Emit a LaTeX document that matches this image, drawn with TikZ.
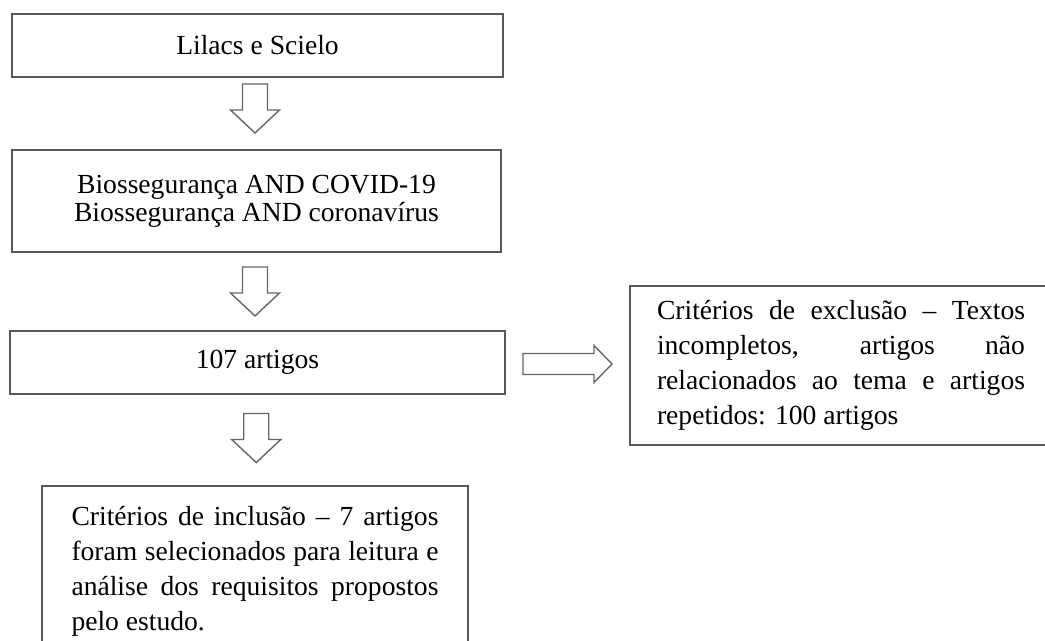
\documentclass[tikz,border=0pt]{standalone}
\usepackage{fontspec}
\setmainfont{Liberation Serif}
\usepackage{tikz}
\usetikzlibrary{positioning,calc}

\tikzset{
  caixa/.style={draw=black!65, line width=1.1pt, fill=white, text=black,
    font=\fontsize{13.8}{14}\selectfont, align=center, inner sep=0pt},
  caixatexto/.style={caixa, align=justify, text width=184pt,
    font=\fontsize{13.8}{17.5}\selectfont},
  setaline/.style={draw=black!60, line width=0.7pt, fill=white},
  pics/setabaixo/.style={code={
    \draw[setaline] (-12.5,-24.5) -- (12.5,-24.5) -- (12.5,1.5) -- (24.5,1.5)
      -- (0,24.5) -- (-24.5,1.5) -- (-12.5,1.5) -- cycle;}},
  pics/setadireita/.style={code={
    \draw[setaline] (-44.5,-10.5) -- (26.5,-10.5) -- (26.5,-18.5) -- (44.5,0)
      -- (26.5,18.5) -- (26.5,10.5) -- (-44.5,10.5) -- cycle;}}
}

\begin{document}
\begin{tikzpicture}[x=0.5pt, y=-0.5pt]
\useasboundingbox (0,0) rectangle (1045,641);

% Fontes de busca
\node[caixa, minimum width=245.5pt, minimum height=31.5pt] (fontes) at (257.5,45.5) {Lilacs e Scielo};

% Descritores
\node[caixa, minimum width=244.5pt, minimum height=51pt] (busca) at (256.5,201) {Biossegurança AND COVID-19\\Biossegurança AND coronavírus};

% Resultado
\node[caixa, minimum width=247.5pt, minimum height=31.5pt] (artigos) at (257.5,362.5) {107 artigos};

% Inclusao
\node[caixatexto, anchor=north, text width=183.5pt, inner xsep=14.75pt, inner ysep=10pt] (inclusao) at (255,485) {Critérios de inclusão – 7 artigos\linebreak foram selecionados para leitura e\linebreak análise dos requisitos propostos\linebreak pelo estudo.};

% Exclusao
\node[caixatexto, inner xsep=13.5pt, minimum height=79.5pt] (exclusao) at (841,365.5) {Critérios de exclusão – Textos\linebreak incompletos, artigos não\linebreak relacionados ao tema e artigos\linebreak repetidos: 100 artigos};

% Setas
\pic at ($(fontes.south)!0.5!(busca.north)+(-2,-5)$) {setabaixo};
\pic at ($(busca.south)!0.5!(artigos.north)+(-2,0)$) {setabaixo};
\pic at ($(artigos.south)!0.5!(inclusao.north)+(0,-2)$) {setabaixo};
\pic at ($(artigos.east)!0.5!(exclusao.west)$) {setadireita};
\end{tikzpicture}
\end{document}
